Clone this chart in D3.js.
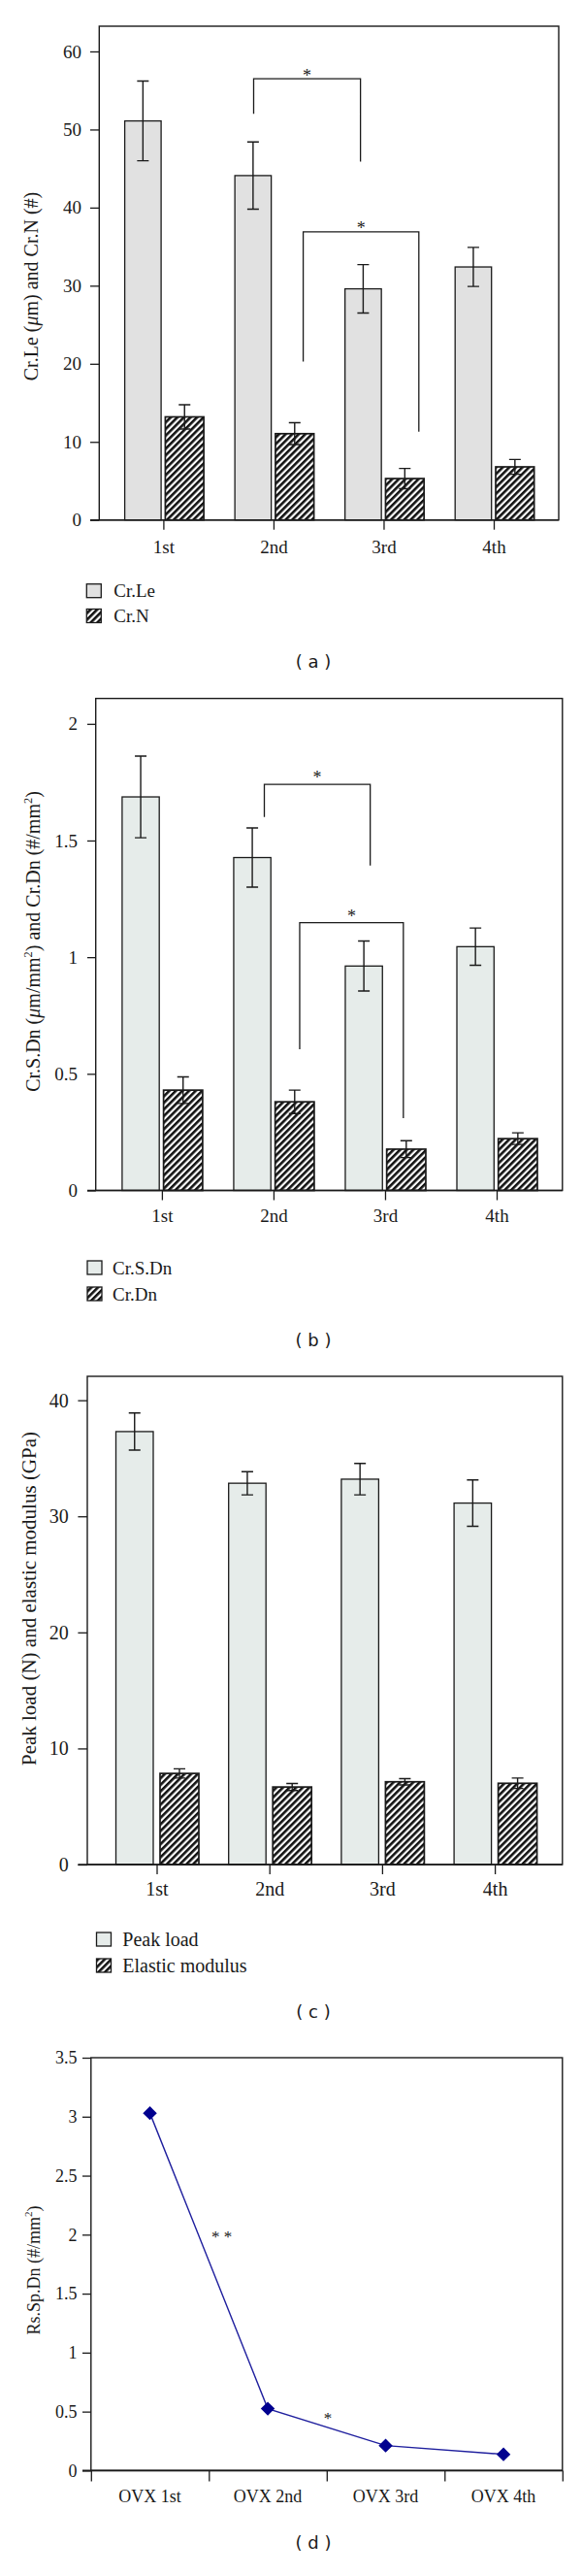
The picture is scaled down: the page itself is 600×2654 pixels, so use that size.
<!DOCTYPE html>
<html><head><meta charset="utf-8">
<script src="https://cdn.jsdelivr.net/npm/d3@7"></script>
<style>body{margin:0;background:#fff}svg{display:block}</style>
</head><body>
<script>
// ---------- data ----------
const categories = ["1st", "2nd", "3rd", "4th"];
const crLe = [51.1, 44.1, 29.6, 32.4];
const crLeErr = [5.1, 4.3, 3.1, 2.5];
const crN = [13.2, 11.05, 5.3, 6.8];
const crNErr = [1.55, 1.4, 1.3, 0.95];
const crSDn = [1.687, 1.427, 0.962, 1.045];
const crSDnErr = [0.175, 0.127, 0.107, 0.08];
const crDn = [0.43, 0.38, 0.177, 0.222];
const crDnErr = [0.057, 0.05, 0.036, 0.025];
const peakLoad = [37.3, 32.85, 33.2, 31.14];
const peakLoadErr = [1.6, 1.0, 1.35, 2.0];
const elasticModulus = [7.85, 6.68, 7.13, 7.0];
const elasticModulusErr = [0.4, 0.3, 0.27, 0.45];
const ovxCategories = ["OVX 1st", "OVX 2nd", "OVX 3rd", "OVX 4th"];
const rsSpDn = [3.03, 0.525, 0.212, 0.138];
const ticksA = [0, 10, 20, 30, 40, 50, 60];
const ticksB = [0, 0.5, 1, 1.5, 2];
const ticksC = [0, 10, 20, 30, 40];
const ticksD = [0, 0.5, 1, 1.5, 2, 2.5, 3, 3.5];
const legendA = ["Cr.Le", "Cr.N"];
const legendB = ["Cr.S.Dn", "Cr.Dn"];
const legendC = ["Peak load", "Elastic modulus"];
// significance brackets (group-index position, data values)
const bracketsA = [
  {from: 0.82, to: 1.79, top: 56.5, leftEnd: 52.0, rightEnd: 45.9, label: "*"},
  {from: 1.27, to: 2.32, top: 36.9, leftEnd: 20.3, rightEnd: 11.3, label: "*"}
];
const bracketsB = [
  {from: 0.918, to: 1.867, top: 1.741, leftEnd: 1.601, rightEnd: 1.393, label: "*"},
  {from: 1.235, to: 2.164, top: 1.148, leftEnd: 0.605, rightEnd: 0.31, label: "*"}
];
const annotationsD = [
  {pos: 0.61, value: 2.01, label: "* *"},
  {pos: 1.51, value: 0.47, label: "*"}
];

// ---------- setup ----------
const SERIF = "'Liberation Serif','Times New Roman',serif";
const SANS = "'DejaVu Sans',Verdana,sans-serif";
const INK = "#1a1a1a";
const svg = d3.select("body").append("svg").attr("width", 600).attr("height", 2654);
const defs = svg.append("defs");
const pat = defs.append("pattern").attr("id", "hatch").attr("patternUnits", "userSpaceOnUse")
  .attr("width", 4.8).attr("height", 4.8).attr("patternTransform", "rotate(45)");
pat.append("rect").attr("width", 4.8).attr("height", 4.8).attr("fill", "#fff");
pat.append("rect").attr("width", 2.6).attr("height", 4.8).attr("fill", "#111");

function richText(sel, parts, fs) {
  let shiftBack = 0;
  parts.forEach(p => {
    const ts = sel.append("tspan").text(p.t);
    if (p.sup) {
      ts.attr("font-size", fs * 0.62).attr("dy", -fs * 0.42);
      shiftBack = fs * 0.42;
    } else {
      if (shiftBack) { ts.attr("dy", shiftBack); shiftBack = 0; }
      if (p.it) ts.attr("font-style", "italic");
    }
  });
}

function styleAxis(a, fs) {
  a.select(".domain").remove();
  a.selectAll(".tick line").attr("stroke", INK).attr("stroke-width", 1.3);
  a.selectAll(".tick text").attr("fill", INK).attr("font-family", SERIF).attr("font-size", fs);
}

function barPanel(o) {
  const g = svg.append("g");
  const y = d3.scaleLinear().domain([0, o.yMax]).range([o.bottom, o.top]);
  const x = d3.scalePoint().domain(categories).range(o.xRange);
  const xi = d3.scaleLinear().domain([0, categories.length - 1]).range(o.xRange);
  const series = [
    {vals: o.light, errs: o.lightErr, off: o.lOff, fill: o.lightFill, sw: 1.3},
    {vals: o.hatch, errs: o.hatchErr, off: o.hOff, fill: "url(#hatch)", sw: 1.7}
  ];
  series.forEach(s => {
    const data = categories.map((c, i) => ({c, v: s.vals[i], e: s.errs[i]}));
    g.append("g").selectAll("rect").data(data).join("rect")
      .attr("x", d => x(d.c) + s.off[0]).attr("width", s.off[1] - s.off[0])
      .attr("y", d => y(d.v)).attr("height", d => y(0) - y(d.v))
      .attr("fill", s.fill).attr("stroke", INK).attr("stroke-width", s.sw);
  });
  series.forEach(s => {
    const data = categories.map((c, i) => ({c, v: s.vals[i], e: s.errs[i]}));
    const cx = d => x(d.c) + (s.off[0] + s.off[1]) / 2;
    g.append("g").selectAll("path").data(data).join("path")
      .attr("d", d => `M${cx(d) - 6},${y(d.v + d.e)}h12M${cx(d)},${y(d.v + d.e)}V${y(d.v - d.e)}M${cx(d) - 6},${y(d.v - d.e)}h12`)
      .attr("fill", "none").attr("stroke", INK).attr("stroke-width", 1.4);
  });
  // frame
  g.append("rect").attr("x", o.left).attr("y", o.top).attr("width", o.right - o.left)
    .attr("height", o.bottom - o.top).attr("fill", "none").attr("stroke", INK).attr("stroke-width", 1.4);
  g.append("line").attr("x1", o.left - o.tick).attr("x2", o.right).attr("y1", o.bottom).attr("y2", o.bottom)
    .attr("stroke", INK).attr("stroke-width", 1.6);
  // axes
  const ya = g.append("g").attr("transform", `translate(${o.left},0)`)
    .call(d3.axisLeft(y).tickValues(o.ticks).tickSize(o.tick).tickPadding(o.ypad).tickFormat(d => String(d)));
  styleAxis(ya, o.fs);
  const xa = g.append("g").attr("transform", `translate(0,${o.bottom})`)
    .call(d3.axisBottom(x).tickSize(10).tickPadding(o.xpad));
  styleAxis(xa, o.fs);
  // brackets
  g.append("g").selectAll("path").data(o.brackets).join("path")
    .attr("d", b => `M${xi(b.from)},${y(b.leftEnd)}V${y(b.top)}H${xi(b.to)}V${y(b.rightEnd)}`)
    .attr("fill", "none").attr("stroke", INK).attr("stroke-width", 1.3);
  g.append("g").selectAll("text").data(o.brackets).join("text")
    .attr("x", b => (xi(b.from) + xi(b.to)) / 2).attr("y", b => y(b.top) - o.starOff + 9)
    .attr("text-anchor", "middle").attr("font-family", SERIF).attr("font-size", 18).attr("fill", INK)
    .text(b => b.label);
  // legend
  const lg = g.append("g");
  o.legend.names.forEach((n, i) => {
    const ty = o.legend.tops[i];
    lg.append("rect").attr("x", o.legend.x).attr("y", ty).attr("width", 15).attr("height", 14)
      .attr("fill", i === 0 ? o.lightFill : "url(#hatch)").attr("stroke", INK).attr("stroke-width", 1.3);
    lg.append("text").attr("x", o.legend.tx).attr("y", ty + 13.5).attr("font-family", SERIF)
      .attr("font-size", o.fs).attr("fill", INK).text(n);
  });
  // y label
  const yl = g.append("text").attr("transform", `translate(${o.ylab.x},${o.ylab.y}) rotate(-90)`)
    .attr("text-anchor", "middle").attr("font-family", SERIF).attr("font-size", o.ylab.fs).attr("fill", INK);
  richText(yl, o.ylab.parts, o.ylab.fs);
  // panel label
  g.append("text").attr("x", 323).attr("y", o.panelY).attr("text-anchor", "middle")
    .attr("font-family", SANS).attr("font-size", 18).attr("fill", INK).text(o.panel);
}

barPanel({
  left: 102.3, right: 576, top: 27, bottom: 535.7, yMax: 63.23, ticks: ticksA,
  xRange: [168.4, 509], lOff: [-39.8, -2.3], hOff: [2, 41.7],
  light: crLe, lightErr: crLeErr, hatch: crN, hatchErr: crNErr, lightFill: "#e1e1e1",
  tick: 9.3, ypad: 9, xpad: 10.8, fs: 19, brackets: bracketsA, starOff: 6.5,
  legend: {x: 89.3, tx: 117.3, tops: [601.7, 627.5], names: legendA},
  ylab: {x: 39, y: 295, fs: 20, parts: [{t: "Cr.Le ("}, {t: "\u03bc", it: true}, {t: "m) and Cr.N (#)"}]},
  panel: "( a )", panelY: 688
});
barPanel({
  left: 98.7, right: 579.8, top: 719.6, bottom: 1226.5, yMax: 2.109, ticks: ticksB,
  xRange: [166.9, 512], lOff: [-41, -2.7], hOff: [1.7, 42],
  light: crSDn, lightErr: crSDnErr, hatch: crDn, hatchErr: crDnErr, lightFill: "#e6ecea",
  tick: 8.7, ypad: 10, xpad: 9.4, fs: 19, brackets: bracketsB, starOff: 10,
  legend: {x: 90, tx: 116, tops: [1299, 1326], names: legendB},
  ylab: {x: 41, y: 970, fs: 20, parts: [{t: "Cr.S.Dn ("}, {t: "\u03bc", it: true}, {t: "m/mm"}, {t: "2", sup: true}, {t: ") and Cr.Dn (#/mm"}, {t: "2", sup: true}, {t: ")"}]},
  panel: "( b )", panelY: 1387
});
barPanel({
  left: 90, right: 579.8, top: 1418, bottom: 1921, yMax: 42.06, ticks: ticksC,
  xRange: [161.5, 510.1], lOff: [-42, -3.5], hOff: [3.5, 43.5],
  light: peakLoad, lightErr: peakLoadErr, hatch: elasticModulus, hatchErr: elasticModulusErr, lightFill: "#e6ecea",
  tick: 9.6, ypad: 9.6, xpad: 7.5, fs: 20, brackets: [], starOff: 0,
  legend: {x: 99.5, tx: 126.3, tops: [1991, 2018], names: legendC},
  ylab: {x: 37, y: 1647, fs: 21, parts: [{t: "Peak load (N) and elastic modulus (GPa)"}]},
  panel: "( c )", panelY: 2079
});

// ---------- panel (d) ----------
(function () {
  const L = 93.8, R = 579.8, T = 2120, B = 2545.4, fs = 18;
  const g = svg.append("g");
  const y = d3.scaleLinear().domain([0, 3.5]).range([B, T]);
  const xb = d3.scaleBand().domain(ovxCategories).range([L, R]).padding(0);
  const xi = d3.scaleLinear().domain([-0.5, ovxCategories.length - 0.5]).range([L, R]);
  g.append("rect").attr("x", L).attr("y", T).attr("width", R - L).attr("height", B - T)
    .attr("fill", "none").attr("stroke", INK).attr("stroke-width", 1.4);
  g.append("line").attr("x1", L - 8.8).attr("x2", R).attr("y1", B).attr("y2", B).attr("stroke", INK).attr("stroke-width", 1.6);
  const ya = g.append("g").attr("transform", `translate(${L},0)`)
    .call(d3.axisLeft(y).tickValues(ticksD).tickSize(8.8).tickPadding(5.5).tickFormat(d => String(d)));
  styleAxis(ya, fs);
  const bt = g.append("g").attr("transform", `translate(0,${B})`)
    .call(d3.axisBottom(xi).tickValues(d3.range(ovxCategories.length + 1).map(i => i - 0.5)).tickSize(11).tickFormat(""));
  styleAxis(bt, fs);
  const xa = g.append("g").attr("transform", `translate(0,${B})`)
    .call(d3.axisBottom(xb).tickSize(0).tickPadding(19.8));
  styleAxis(xa, fs);
  const pts = ovxCategories.map((c, i) => ({c, v: rsSpDn[i]}));
  const cx = d => xb(d.c) + xb.bandwidth() / 2;
  g.append("path").datum(pts).attr("d", d3.line().x(cx).y(d => y(d.v)))
    .attr("fill", "none").attr("stroke", "#1f1f9e").attr("stroke-width", 1.4);
  g.append("g").selectAll("path").data(pts).join("path")
    .attr("d", d3.symbol(d3.symbolSquare, 104))
    .attr("transform", d => `translate(${cx(d)},${y(d.v)}) rotate(45)`)
    .attr("fill", "#00008f");
  g.append("g").selectAll("text").data(annotationsD).join("text")
    .attr("x", a => xi(a.pos)).attr("y", a => y(a.value) + 9).attr("text-anchor", "middle")
    .attr("font-family", SERIF).attr("font-size", 17).attr("fill", INK).text(a => a.label);
  const yl = g.append("text").attr("transform", `translate(41,2339) rotate(-90)`)
    .attr("text-anchor", "middle").attr("font-family", SERIF).attr("font-size", fs).attr("fill", INK);
  richText(yl, [{t: "Rs.Sp.Dn (#/mm"}, {t: "2", sup: true}, {t: ")"}], fs);
  g.append("text").attr("x", 323).attr("y", 2626).attr("text-anchor", "middle")
    .attr("font-family", SANS).attr("font-size", 18).attr("fill", INK).text("( d )");
})();
</script>
</body></html>
